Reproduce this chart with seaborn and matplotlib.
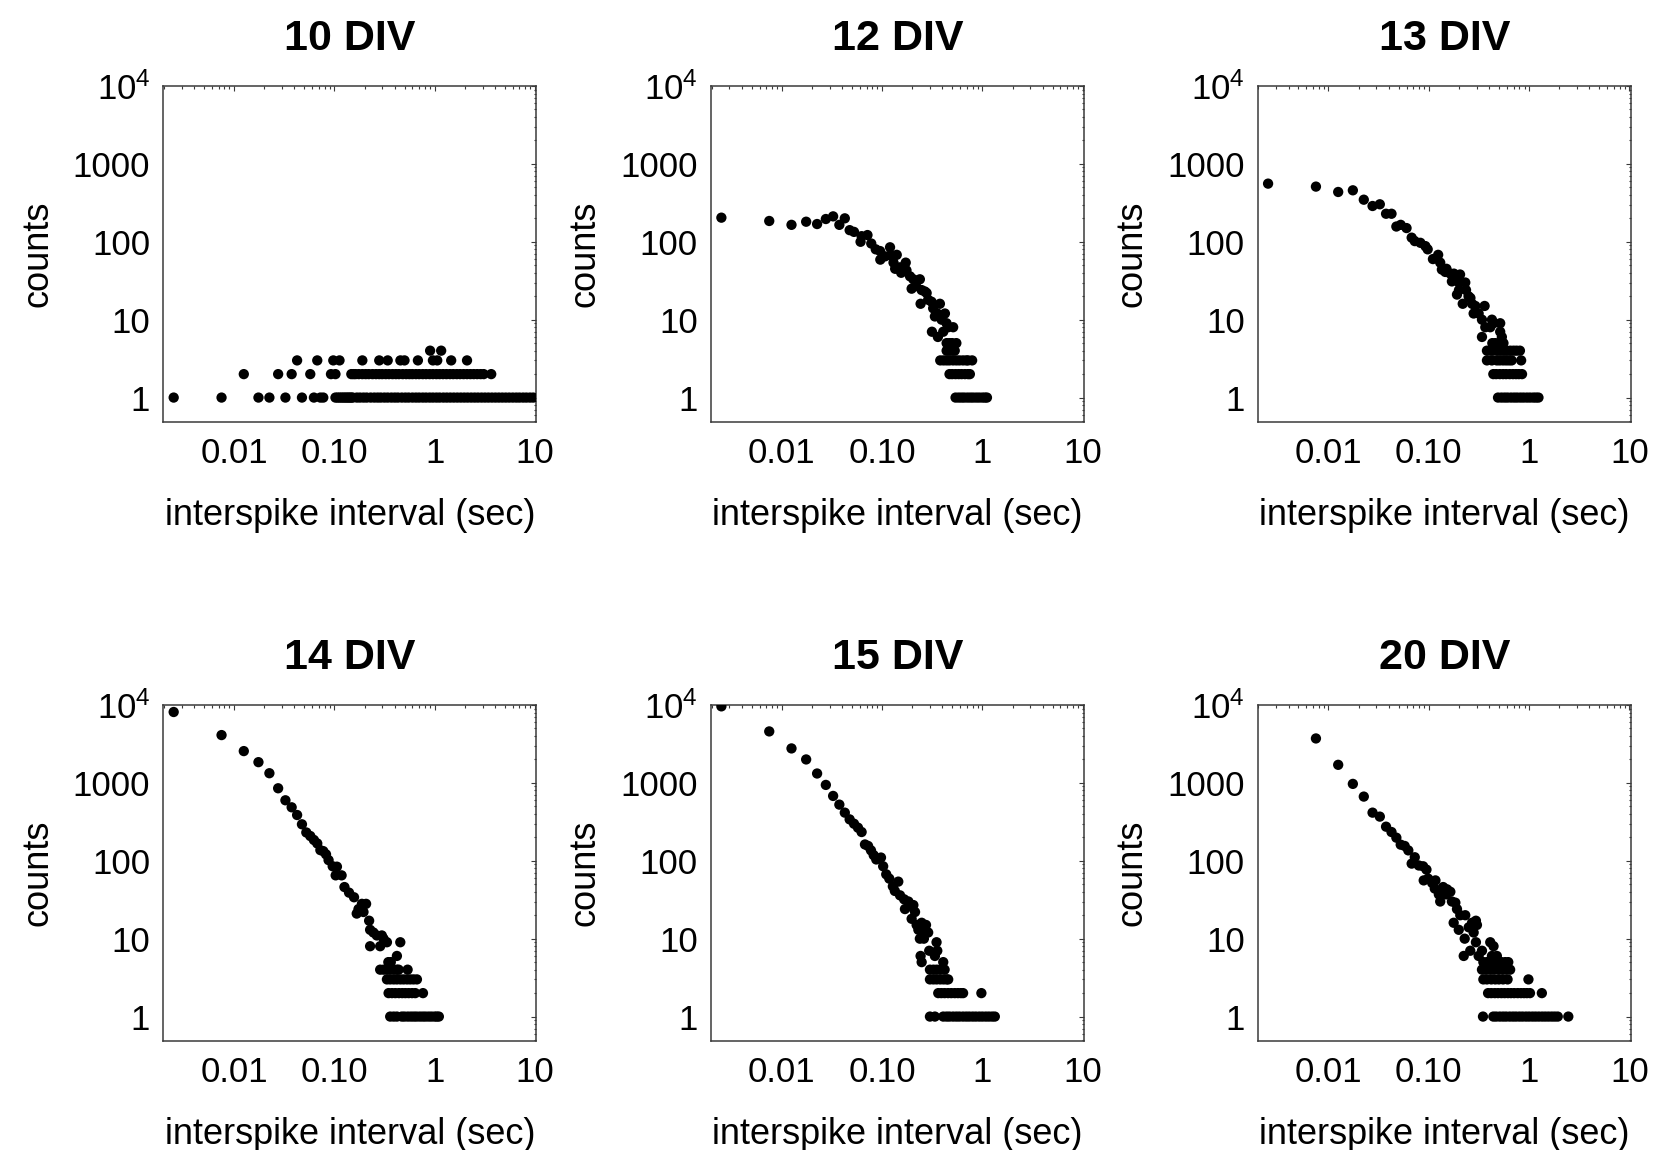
import matplotlib
matplotlib.use("Agg")
import matplotlib.pyplot as plt
import numpy as np
import pandas as pd
import seaborn as sns
from matplotlib.ticker import LogLocator, NullFormatter

# ---------------- data (interspike interval in sec, counts) ----------------
titles = ["10 DIV", "12 DIV", "13 DIV", "14 DIV", "15 DIV", "20 DIV"]

# 10 DIV: only low counts
isi_10 = [0.90, 1.16]
cnt_10 = [4, 4]
ones_10 = [0.0025, 0.0075, 0.0175, 0.0225, 0.0325, 0.0475, 0.0625, 0.0725, 0.0775,
           0.1025, 0.1075, 0.1125, 0.1175, 0.1225, 0.1275, 0.1325, 0.1375, 0.1425,
           0.1475, 0.1525, 0.1675, 0.18, 0.195, 0.21, 0.23, 0.25, 0.27, 0.29, 0.315,
           0.34, 0.37, 0.40, 0.43, 0.47, 0.51, 0.55, 0.60, 0.65, 0.70, 0.76, 0.82,
           0.89, 0.96, 1.04, 1.12, 1.22, 1.32, 1.43, 1.55, 1.68, 1.82, 1.97, 2.13,
           2.31, 2.50, 2.70, 2.93, 3.17, 3.43, 3.72, 4.03, 4.36, 4.72, 5.11, 5.53,
           6.00, 6.50, 7.00, 7.60, 8.20, 8.90, 9.60]
twos_10 = [0.0125, 0.0275, 0.0375, 0.0575, 0.0925, 0.1025, 0.1475, 0.155, 0.1625,
           0.175, 0.19, 0.205, 0.22, 0.24, 0.26, 0.28, 0.30, 0.325, 0.35, 0.38, 0.41,
           0.44, 0.48, 0.52, 0.56, 0.60, 0.65, 0.70, 0.76, 0.82, 0.89, 0.96, 1.04,
           1.12, 1.21, 1.31, 1.42, 1.53, 1.66, 1.79, 1.94, 2.10, 2.27, 2.45, 2.65,
           2.87, 3.08, 3.66]
threes_10 = [0.0425, 0.0675, 0.0975, 0.1125, 0.19, 0.28, 0.34, 0.455, 0.50, 0.68,
             0.96, 1.06, 1.46, 2.10]
fours_10 = []
fives_10 = []

# 12 DIV
isi_12 = [0.0025, 0.0075, 0.0125, 0.0175, 0.0225, 0.0275, 0.0325, 0.0375, 0.0425,
          0.0475, 0.0525, 0.061, 0.0625, 0.0715, 0.078, 0.0865, 0.0955, 0.096,
          0.107, 0.12, 0.121, 0.13, 0.135, 0.14, 0.151, 0.155, 0.172, 0.175, 0.19,
          0.197, 0.205, 0.218, 0.238, 0.242, 0.248, 0.267, 0.278, 0.288, 0.311,
          0.314, 0.323, 0.336, 0.355, 0.36, 0.377, 0.392, 0.407, 0.423, 0.439,
          0.456, 0.511]
cnt_12 = [204, 185, 165, 181, 169, 196, 212, 165, 200,
          141, 134, 100, 118, 122, 95, 80, 76, 59,
          65, 85, 67, 54, 45, 68, 47, 40, 54, 43, 36,
          25, 33, 27, 33, 16, 24, 23, 22, 18, 17,
          7, 14, 11, 12, 6, 16, 10, 7, 12, 9,
          8, 8]
ones_12 = [0.54, 0.58, 0.62, 0.66, 0.71, 0.76, 0.81, 0.87, 0.93, 1.0, 1.06, 1.11]
twos_12 = [0.47, 0.50, 0.54, 0.58, 0.62, 0.67, 0.72, 0.75]
threes_12 = [0.38, 0.41, 0.44, 0.47, 0.51, 0.55, 0.59, 0.64, 0.69, 0.72, 0.79]
fours_12 = [0.44, 0.47, 0.50, 0.53]
fives_12 = [0.44, 0.47, 0.50, 0.55]

# 13 DIV
isi_13 = [0.0025, 0.0075, 0.0125, 0.0175, 0.0225, 0.0275, 0.0325, 0.0375, 0.0425,
          0.0475, 0.0525, 0.06, 0.0675, 0.0725, 0.0825, 0.0925, 0.0975, 0.11,
          0.124, 0.13, 0.135, 0.146, 0.15, 0.164, 0.17, 0.178, 0.191, 0.191, 0.2,
          0.2, 0.205, 0.218, 0.231, 0.235, 0.249, 0.26, 0.27, 0.28, 0.291, 0.314,
          0.339, 0.339, 0.36, 0.366, 0.41, 0.426, 0.442, 0.515, 0.515, 0.535]
cnt_13 = [558, 511, 436, 458, 347, 288, 303, 229, 229,
          157, 165, 150, 113, 102, 97, 88, 80, 60,
          68, 54, 44, 41, 45, 39, 31, 39, 35, 21, 30,
          24, 38, 16, 30, 24, 20, 19, 16, 12, 15, 12,
          10, 6, 15, 8, 8, 10, 9, 9, 7, 6]
ones_13 = [0.49, 0.53, 0.57, 0.61, 0.66, 0.71, 0.76, 0.82, 0.88, 0.95, 1.02, 1.10,
           1.17, 1.24]
twos_13 = [0.44, 0.47, 0.51, 0.55, 0.59, 0.64, 0.69, 0.74, 0.79, 0.85]
threes_13 = [0.38, 0.425, 0.477, 0.51, 0.55, 0.59, 0.63, 0.67, 0.833]
fours_13 = [0.38, 0.41, 0.44, 0.48, 0.52, 0.56, 0.60, 0.65, 0.70, 0.75, 0.81]
fives_13 = [0.43, 0.46, 0.50, 0.555]

# 14 DIV
isi_14 = [0.0025, 0.0075, 0.0125, 0.0175, 0.0225, 0.0275, 0.0325, 0.0375, 0.0425,
          0.0475, 0.0525, 0.0575, 0.0625, 0.0675, 0.0725, 0.0775, 0.0825, 0.0875,
          0.0962, 0.103, 0.106, 0.118, 0.126, 0.14, 0.157, 0.167, 0.174, 0.188,
          0.195, 0.207, 0.222, 0.227, 0.227, 0.245, 0.265, 0.286, 0.297, 0.309,
          0.334, 0.42, 0.454]
cnt_14 = [8130, 4110, 2560, 1846, 1331, 853, 598, 486, 387,
          294, 231, 208, 185, 167, 137, 133, 121, 102,
          85, 65, 84, 65, 46, 39, 34, 21, 24, 28,
          22, 28, 17, 13, 8, 12, 11, 8, 11, 10,
          9, 6, 9]
ones_14 = [0.36, 0.39, 0.42, 0.47, 0.50, 0.54, 0.58, 0.62, 0.66, 0.71, 0.76, 0.81,
           0.87, 0.93, 1.0, 1.05, 1.10]
twos_14 = [0.347, 0.375, 0.405, 0.44, 0.475, 0.51, 0.55, 0.595, 0.64, 0.764]
threes_14 = [0.334, 0.36, 0.39, 0.42, 0.455, 0.49, 0.53, 0.57, 0.615, 0.665]
fours_14 = [0.286, 0.31, 0.335, 0.36, 0.39, 0.42, 0.437, 0.537]
fives_14 = [0.345, 0.365]

# 15 DIV
isi_15 = [0.0025, 0.0075, 0.0125, 0.0175, 0.0225, 0.0275, 0.0325, 0.0375, 0.0425,
          0.0475, 0.0525, 0.0575, 0.0625, 0.0675, 0.0725, 0.0775, 0.0825, 0.0875,
          0.0975, 0.1025, 0.11, 0.118, 0.128, 0.134, 0.145, 0.151, 0.166, 0.169,
          0.183, 0.19, 0.197, 0.205, 0.213, 0.221, 0.23, 0.238, 0.242, 0.248,
          0.248, 0.257, 0.261, 0.274, 0.288, 0.295, 0.336, 0.349, 0.355, 0.407]
cnt_15 = [9610, 4580, 2770, 2000, 1320, 942, 680, 526, 415,
          340, 299, 266, 234, 162, 155, 136, 118, 104,
          110, 85, 67, 59, 47, 41, 54, 36, 32, 24,
          30, 26, 18, 27, 22, 15, 13, 10, 6, 16,
          5, 12, 10, 15, 12, 7, 6, 9, 7, 5]
ones_15 = [0.30, 0.336, 0.407, 0.44, 0.47, 0.51, 0.55, 0.59, 0.64, 0.69, 0.74, 0.80,
           0.86, 0.93, 1.0, 1.08, 1.16, 1.25, 1.33]
twos_15 = [0.363, 0.39, 0.42, 0.455, 0.49, 0.53, 0.57, 0.61, 0.642, 0.977]
threes_15 = [0.30, 0.325, 0.35, 0.38, 0.41, 0.44, 0.456]
fours_15 = [0.30, 0.325, 0.35, 0.38, 0.42]
fives_15 = []

# 20 DIV
isi_20 = [0.0075, 0.0125, 0.0175, 0.0225, 0.0275, 0.0325, 0.0375, 0.0425, 0.0475,
          0.0525, 0.0575, 0.0625, 0.0675, 0.0725, 0.0796, 0.0878, 0.089, 0.0948,
          0.0985, 0.108, 0.1147, 0.1165, 0.126, 0.13, 0.139, 0.1486, 0.152, 0.164,
          0.17, 0.177, 0.184, 0.191, 0.199, 0.206, 0.223, 0.228, 0.231, 0.25,
          0.259, 0.27, 0.28, 0.295, 0.295, 0.302, 0.314, 0.339, 0.41, 0.426,
          0.442, 0.477]
cnt_20 = [3720, 1706, 971, 667, 415, 369, 274, 234, 198,
          161, 155, 136, 92, 111, 87, 85, 56, 77,
          59, 52, 44, 56, 37, 30, 46, 37, 43, 40,
          30, 16, 29, 24, 13, 20, 6, 10, 20, 14,
          7, 16, 12, 17, 9, 15, 6, 7, 9, 6,
          8, 6]
ones_20 = [0.347, 0.44, 0.47, 0.51, 0.55, 0.59, 0.64, 0.69, 0.74, 0.80, 0.86, 0.93,
           1.0, 1.08, 1.16, 1.25, 1.35, 1.45, 1.56, 1.68, 1.80, 1.93, 2.46]
twos_20 = [0.39, 0.42, 0.455, 0.49, 0.53, 0.57, 0.615, 0.66, 0.71, 0.77, 0.83, 0.89,
           0.95, 1.02, 1.34]
threes_20 = [0.35, 0.38, 0.42, 0.46, 0.50, 0.55, 0.61, 0.985]
fours_20 = [0.339, 0.37, 0.405, 0.442, 0.496, 0.54, 0.59, 0.647]
fives_20 = [0.35, 0.38, 0.41, 0.45, 0.49, 0.53, 0.578, 0.62]

x_tick_values = [0.01, 0.1, 1, 10]
x_tick_labels = ["0.01", "0.10", "1", "10"]
y_tick_values = [1, 10, 100, 1000, 10000]
y_tick_labels = ["1", "10", "100", "1000", r"$\mathregular{10^4}$"]

panels = [
    (isi_10, cnt_10, ones_10, twos_10, threes_10, fours_10, fives_10),
    (isi_12, cnt_12, ones_12, twos_12, threes_12, fours_12, fives_12),
    (isi_13, cnt_13, ones_13, twos_13, threes_13, fours_13, fives_13),
    (isi_14, cnt_14, ones_14, twos_14, threes_14, fours_14, fives_14),
    (isi_15, cnt_15, ones_15, twos_15, threes_15, fours_15, fives_15),
    (isi_20, cnt_20, ones_20, twos_20, threes_20, fours_20, fives_20),
]


def build_frame(isi, cnt, *rows):
    xs = list(isi)
    ys = list(cnt)
    for level, row in enumerate(rows, start=1):
        xs += list(row)
        ys += [level] * len(row)
    return pd.DataFrame({"isi": xs, "count": ys})


# ---------------- style ----------------
sns.set_style("white")
plt.rcParams["font.family"] = ["Liberation Sans", "DejaVu Sans"]
plt.rcParams["mathtext.fontset"] = "custom"
plt.rcParams["mathtext.rm"] = "Liberation Sans"
plt.rcParams["mathtext.it"] = "Liberation Sans:italic"
plt.rcParams["mathtext.bf"] = "Liberation Sans:bold"
plt.rcParams["text.color"] = "black"
plt.rcParams["axes.labelcolor"] = "black"
plt.rcParams["xtick.labelcolor"] = "black"
plt.rcParams["ytick.labelcolor"] = "black"

FW, FH = 1656, 1150
fig = plt.figure(figsize=(FW / 100, FH / 100), dpi=100)

lefts = [163.3, 711.0, 1257.7]
tops = [86.0, 705.0]
AW, AH = 373.0, 335.7
frame_col = "#3a3a3a"

for i, (title, data) in enumerate(zip(titles, panels)):
    r, c = divmod(i, 3)
    ax = fig.add_axes([lefts[c] / FW, 1 - (tops[r] + AH) / FH, AW / FW, AH / FH])
    df = build_frame(*data)
    sns.scatterplot(data=df, x="isi", y="count", ax=ax, s=55, color="black",
                    linewidth=0, edgecolor="none", legend=False, zorder=3,
                    clip_on=True)
    ax.set_xscale("log")
    ax.set_yscale("log")
    ax.set_xlim(0.00197, 10.3)
    ax.set_ylim(0.49, 10000)
    ax.set_xticks(x_tick_values)
    ax.set_xticklabels(x_tick_labels)
    ax.set_yticks(y_tick_values)
    ax.set_yticklabels(y_tick_labels)
    ax.xaxis.set_minor_locator(LogLocator(base=10, subs=np.arange(2, 10), numticks=20))
    ax.yaxis.set_minor_locator(LogLocator(base=10, subs=np.arange(2, 10), numticks=20))
    ax.xaxis.set_minor_formatter(NullFormatter())
    ax.yaxis.set_minor_formatter(NullFormatter())
    ax.tick_params(which="both", direction="in", top=True, right=True,
                   color=frame_col, width=0.8)
    ax.tick_params(which="major", length=3.5, labelsize=25, labelcolor="black")
    ax.tick_params(which="minor", length=1.8)
    ax.tick_params(axis="x", which="major", pad=11)
    ax.tick_params(axis="y", which="major", pad=9.4)
    for sp in ax.spines.values():
        sp.set_color(frame_col)
        sp.set_linewidth(1.1)
    ax.set_xlabel("interspike interval (sec)", fontsize=26, va="center")
    ax.set_ylabel("counts", fontsize=26, va="center")
    ax.xaxis.set_label_coords(0.5, -0.278)
    ax.yaxis.set_label_coords(-0.337, 0.5)
    ax.set_title(title, fontsize=31, fontweight="bold", pad=26, color="black")
    ax.set_facecolor("white")

fig.savefig("out.png", dpi=100, facecolor="white")
